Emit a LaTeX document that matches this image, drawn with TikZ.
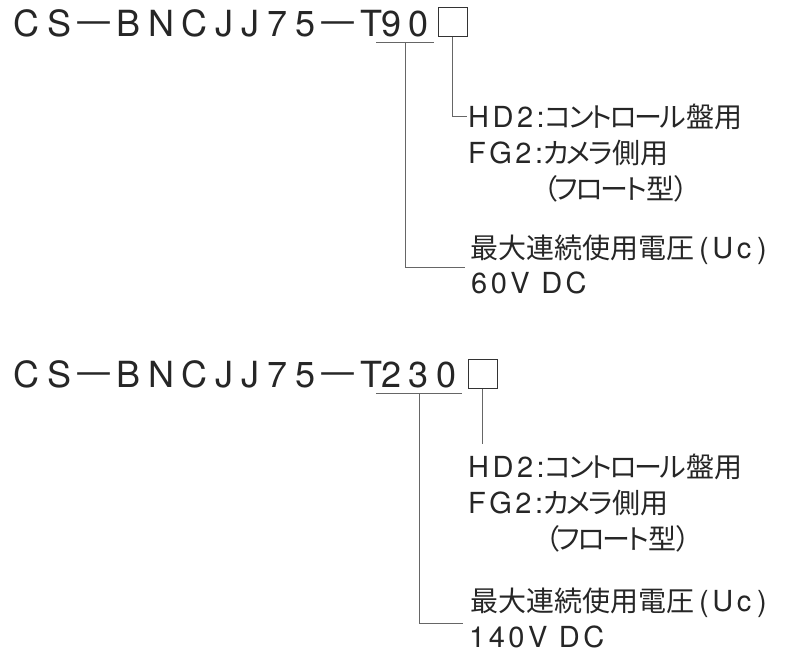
\documentclass[tikz,border=0pt]{standalone}
\usepackage{fontspec}
\setmainfont{TeX Gyre Heros}
\newfontfamily\jpfont[RawFeature=+palt]{Noto Sans CJK JP}
\newfontfamily\kanafont[RawFeature=+palt, LetterSpace=-9]{Noto Sans CJK JP}
\newfontfamily\specfont[LetterSpace=12]{TeX Gyre Heros}
\newfontfamily\partfont[LetterSpace=22]{TeX Gyre Heros}
\newfontfamily\partjpfont[LetterSpace=22]{Noto Sans CJK JP}
\newcommand\partdash{{\partjpfont\scalebox{1.25}[1]{－}}}
\newcommand\jp[1]{{\jpfont\fontsize{28}{32}\selectfont #1}}
\newcommand\kana[1]{{\kanafont\fontsize{28}{32}\selectfont #1}}
\usepackage{tikz}
\usetikzlibrary{positioning}

\begin{document}
\begin{tikzpicture}[
  x=1pt, y=-1pt,
  partno/.style={inner sep=0pt, anchor=base west, text=black!85,
                 font=\partfont\fontsize{36}{40}\selectfont},
  digits/.style={partno, anchor=base, minimum width=#1},
  optbox/.style={draw=black!80, line width=1pt, minimum size=29pt, inner sep=0pt},
  spec/.style={inner sep=0pt, anchor=base west, text=black!85,
               font=\specfont\fontsize{29}{32}\selectfont},
  leader/.style={draw=black!60, line width=0.9pt}
]
    \useasboundingbox (0,0) rectangle (800,654);

    % Upper part number: T90
    \node[partno] (titA) at (13,36) {CS\partdash BNCJJ75\partdash T};
    \node[digits=57pt] (numA) at (405,36) {90};
    \node[optbox] (boxA) at (452.5,22) {};

    \node[spec] (hdA) at (468,127) {HD2:\kana{コントロール}\jp{盤用}};
    \node[spec] (fgA) at (468,163) {FG2:\kana{カメラ}\jp{側用}};
    \node[spec] (flA) at (543,199) {\kana{（フロート}\jp{型）}};
    \node[spec] (mxA) at (470,258) {\jp{最大連続使用電圧}\kern5pt(Uc\kern6pt)};
    \node[spec] (vA)  at (471,293) {60V DC};

    \draw[leader] ([yshift=-6pt]numA.south west) -- coordinate[midway] (ulA)
      ([yshift=-6pt]numA.south east);
    \draw[leader] (ulA) |- ([xshift=-6pt,yshift=4pt]vA.north west);
    \draw[leader] (boxA.south) |- ([xshift=-1pt]hdA.west);

    % Lower part number: T230
    \node[partno] (titB) at (13,387) {CS\partdash BNCJJ75\partdash T};
    \node[digits=86pt] (numB) at (419,387) {230};
    \node[optbox] (boxB) at (482.5,374) {};

    \node[spec] (hdB) at (468,477) {HD2:\kana{コントロール}\jp{盤用}};
    \node[spec] (fgB) at (468,513) {FG2:\kana{カメラ}\jp{側用}};
    \node[spec] (flB) at (545,549) {\kana{（フロート}\jp{型）}};
    \node[spec] (mxB) at (470,611) {\jp{最大連続使用電圧}\kern5pt(Uc\kern6pt)};
    \node[spec] (vB)  at (469,647) {140V DC};

    \draw[leader] ([yshift=-6pt]numB.south west) -- coordinate[midway] (ulB)
      ([yshift=-6pt]numB.south east);
    \draw[leader] (ulB) |- ([xshift=-6pt,yshift=2pt]vB.north west);
    \draw[leader] (boxB.south) -- ([yshift=9pt]boxB.south |- hdB.north);
\end{tikzpicture}
\end{document}
